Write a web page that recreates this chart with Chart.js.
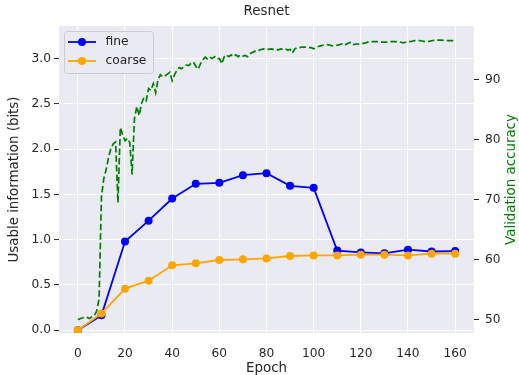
<!DOCTYPE html>
<html>
<head>
<meta charset="utf-8">
<script src="https://cdn.jsdelivr.net/npm/chart.js@4.4.1/dist/chart.umd.min.js"></script>
<style>
  html, body { margin: 0; padding: 0; background: #fff; }
  #wrap { width: 519px; height: 375px; }
</style>
</head>
<body>
<div id="wrap"><canvas id="c" width="519" height="375"></canvas></div>
<script>
const chartTitle = "Resnet"
const seriesNames = ["fine", "coarse"]
const epochs = [0, 10, 20, 30, 40, 50, 60, 70, 80, 90, 100, 110, 120, 130, 140, 150, 160]
const fineInfo = [0.0, 0.165, 0.98, 1.21, 1.455, 1.617, 1.628, 1.713, 1.735, 1.595, 1.573, 0.88, 0.86, 0.85, 0.89, 0.87, 0.875]
const coarseInfo = [0.0, 0.184, 0.46, 0.548, 0.717, 0.739, 0.776, 0.783, 0.794, 0.82, 0.827, 0.827, 0.835, 0.835, 0.827, 0.846, 0.846]
// validation accuracy, one value per epoch (0..160)
const valAcc = [
  50.0, 50.2, 50.3, 50.5, 50.4, 50.2, 50.5, 50.7, 51.5, 53.5,
  70.5, 73.5, 75.0, 77.0, 78.5, 79.3, 79.6, 69.5, 82.0, 80.8,
  79.8, 80.2, 79.5, 74.2, 83.5, 85.5, 84.0, 86.0, 87.0, 86.5,
  88.5, 88.2, 89.3, 87.8, 90.0, 90.8, 90.4, 90.6, 90.9, 91.2,
  89.8, 90.8, 91.5, 92.0, 91.8, 92.2, 92.4, 92.3, 92.7, 92.9,
  92.2, 91.7, 92.6, 93.3, 93.7, 93.4, 93.7, 93.5, 93.8, 93.4,
  93.5, 92.6, 93.7, 94.1, 93.8, 94.1, 93.8, 94.1, 93.8, 94.1,
  93.9, 94.0, 93.8, 94.3, 94.5, 94.7, 94.6, 94.9, 95.0, 95.1,
  95.1, 95.0, 95.1, 95.0, 95.1, 94.9, 95.1, 95.0, 95.1, 94.9,
  95.0, 94.4, 95.1, 95.3, 95.3, 95.4, 95.4, 95.4, 95.3, 95.3,
  95.1, 95.3, 95.5, 95.6, 95.7, 95.8, 95.8, 95.7, 95.6, 95.6,
  95.7, 95.8, 95.9, 95.7, 95.9, 96.1, 96.2, 95.8, 95.9, 95.9,
  96.0, 96.0, 96.1, 96.2, 96.2, 96.3, 96.3, 96.3, 96.2, 96.2,
  96.2, 96.2, 96.3, 96.3, 96.3, 96.3, 96.3, 96.2, 96.1, 96.2,
  96.3, 96.3, 96.4, 96.45, 96.45, 96.45, 96.4, 96.3, 96.3, 96.35,
  96.45, 96.5, 96.55, 96.55, 96.55, 96.5, 96.45, 96.45, 96.45, 96.45,
  96.45
]
const xTicks = [0, 20, 40, 60, 80, 100, 120, 140, 160]
const infoTicks = [0, 0.5, 1.0, 1.5, 2.0, 2.5, 3.0]
const accTicks = [50, 60, 70, 80, 90]

const ink = "#262626"
const face = "#EAEAF2"
const font = "DejaVu Sans"
const colors = ["#0000FF", "#FFA500"]

function fixTicks(list){
  return scale => { scale.ticks = list.map(v => ({value: v})) }
}

const decor = {
  id: "decor",
  beforeDraw(chart){
    const {ctx, chartArea: a} = chart
    ctx.save()
    ctx.fillStyle = face
    ctx.fillRect(a.left, a.top, a.right - a.left, a.bottom - a.top)
    ctx.restore()
  },
  afterDraw(chart){
    const {ctx, chartArea: a} = chart
    ctx.save()
    // title
    ctx.fillStyle = ink
    ctx.font = "13.4px '" + font + "'"
    ctx.textAlign = "center"
    ctx.textBaseline = "middle"
    ctx.fillText(chartTitle, (a.left + a.right) / 2, 12)
    // right axis title, reads upward
    ctx.save()
    ctx.translate(512, (a.top + a.bottom) / 2)
    ctx.rotate(-Math.PI / 2)
    ctx.fillStyle = "#008000"
    ctx.fillText("Validation accuracy", 0, 0)
    ctx.restore()
    // legend
    const bx = 64, by = 31, bw = 89, bh = 42
    ctx.beginPath()
    ctx.roundRect(bx + 0.5, by + 0.5, bw, bh, 3)
    ctx.fillStyle = face
    ctx.fill()
    ctx.strokeStyle = "#CCCCCC"
    ctx.lineWidth = 1
    ctx.stroke()
    ctx.font = "12.3px '" + font + "'"
    ctx.textAlign = "left"
    seriesNames.forEach((name, i) => {
      const y = 42 + i * 19
      ctx.strokeStyle = colors[i]
      ctx.lineWidth = 1.8
      ctx.beginPath()
      ctx.moveTo(68, y)
      ctx.lineTo(96, y)
      ctx.stroke()
      ctx.fillStyle = colors[i]
      ctx.beginPath()
      ctx.arc(82, y, 4, 0, Math.PI * 2)
      ctx.fill()
      ctx.fillStyle = ink
      ctx.fillText(name, 105.5, y)
    })
    ctx.restore()
  }
}

const tickFont = {family: font, size: 12.2}
const titleFont = {family: font, size: 13.4, lineHeight: 1}

new Chart(document.getElementById("c"), {
  type: "line",
  data: {
    datasets: [
      {
        label: seriesNames[0],
        data: epochs.map((e, i) => ({x: e, y: fineInfo[i]})),
        yAxisID: "y",
        borderColor: colors[0],
        backgroundColor: colors[0],
        borderWidth: 1.8,
        pointRadius: 4,
        pointBorderWidth: 0,
        order: 2
      },
      {
        label: seriesNames[1],
        data: epochs.map((e, i) => ({x: e, y: coarseInfo[i]})),
        yAxisID: "y",
        borderColor: colors[1],
        backgroundColor: colors[1],
        borderWidth: 1.8,
        pointRadius: 4,
        pointBorderWidth: 0,
        order: 1
      },
      {
        label: "Validation accuracy",
        data: valAcc.map((v, i) => ({x: i, y: v})),
        yAxisID: "y2",
        borderColor: "#008000",
        borderWidth: 1.7,
        borderDash: [6.5, 3],
        pointRadius: 0,
        order: 0
      }
    ]
  },
  options: {
    responsive: false,
    animation: false,
    layout: {padding: {top: 26, left: 0, right: 0, bottom: 0}},
    plugins: {legend: {display: false}, title: {display: false}, tooltip: {enabled: false}},
    scales: {
      x: {
        type: "linear",
        position: "bottom",
        min: -8,
        max: 168,
        afterBuildTicks: fixTicks(xTicks),
        afterFit: s => { s.height = 42 },
        border: {display: false},
        grid: {color: "#FFFFFF", lineWidth: 1.1, drawTicks: false},
        ticks: {color: ink, font: tickFont, padding: 14, maxRotation: 0},
        title: {display: true, text: "Epoch", color: ink, font: titleFont, padding: {top: 0, bottom: 0}}
      },
      y: {
        type: "linear",
        position: "left",
        min: -0.03,
        max: 3.36,
        afterBuildTicks: fixTicks(infoTicks),
        afterFit: s => { s.width = 59 },
        border: {display: false},
        grid: {color: "#FFFFFF", lineWidth: 1.1, drawTicks: true, tickColor: ink, tickLength: 5, tickWidth: 1},
        ticks: {color: ink, font: tickFont, padding: 3, callback: v => v.toFixed(1)},
        title: {display: true, text: "Usable information (bits)", color: ink, font: titleFont, padding: {top: 8, bottom: 0}}
      },
      y2: {
        type: "linear",
        position: "right",
        min: 47.8,
        max: 98.9,
        afterBuildTicks: fixTicks(accTicks),
        afterFit: s => { s.width = 45 },
        border: {display: false},
        grid: {drawOnChartArea: false, drawTicks: true, tickColor: ink, tickLength: 5, tickWidth: 1},
        ticks: {color: ink, font: tickFont, padding: 6}
      }
    }
  },
  plugins: [decor]
})
</script>
</body>
</html>
